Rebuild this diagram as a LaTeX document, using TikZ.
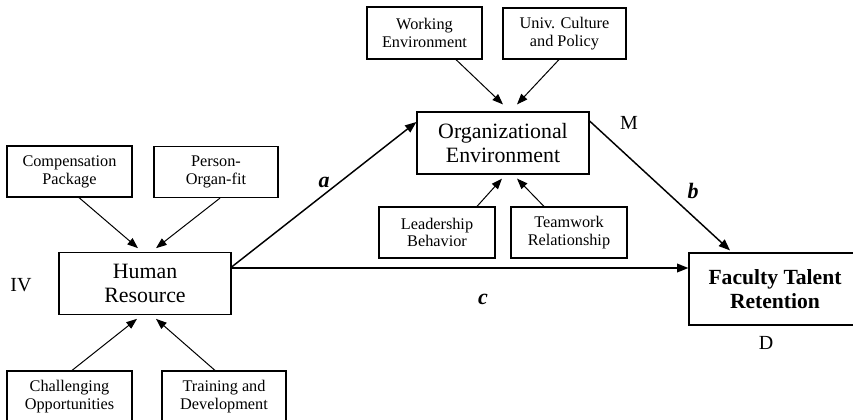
\documentclass[tikz,border=0pt]{standalone}
\usepackage{fontspec}
\setmainfont{Liberation Serif}
\usetikzlibrary{arrows.meta,calc}
\begin{document}
\begin{tikzpicture}[x=0.75pt,y=-0.75pt,
  smallbox/.style={draw,line width=0.9pt,rectangle,inner sep=0pt,align=center,
    font=\fontsize{12.2}{13.3}\selectfont,minimum height=51*0.75pt},
  bigbox/.style={draw,line width=0.9pt,rectangle,inner sep=0pt,align=center,
    font=\fontsize{16.4}{18}\selectfont,minimum width=172*0.75pt,minimum height=61.5*0.75pt},
  thinarrow/.style={line width=0.75pt,-{Triangle[length=8pt,width=6pt]}},
  mainarrow/.style={line width=1.1pt,-{Triangle[length=8.5pt,width=6.5pt]}},
  pathlabel/.style={font=\fontsize{16.5}{18}\selectfont\bfseries\itshape},
  rolelabel/.style={font=\fontsize{15}{18}\selectfont}
]
\useasboundingbox (0,0) rectangle (853,419);
\clip (0,0) rectangle (853,419);

% boxes
\node[smallbox,minimum width=125*0.75pt] (comp) at (69.5,171.5) {Compensation\\Package};
\node[smallbox,minimum width=124*0.75pt] (person) at (216,172) {Person-\\Organ-fit};
\node[smallbox,minimum width=125*0.75pt] (chall) at (69.5,396.5) {Challenging\\Opportunities};
\node[smallbox,minimum width=124*0.75pt] (train) at (224,396.5) {Training and\\Development};
\node[bigbox] (hr) at (145,283.5) {Human\\Resource};

\node[smallbox,minimum width=115*0.75pt,minimum height=52*0.75pt] (work) at (424.5,33) {Working\\Environment};
\node[smallbox,minimum width=123*0.75pt] (univ) at (564.5,33.5) {Univ. Culture\\and Policy};
\node[bigbox,minimum height=62*0.75pt] (org) at (503,143) {Organizational\\Environment};
\node[smallbox,minimum width=116*0.75pt] (lead) at (437,232.5) {Leadership\\Behavior};
\node[smallbox,minimum width=116*0.75pt] (team) at (569,232.5) {Teamwork\\Relationship};

\node[bigbox,minimum height=72*0.75pt,font=\fontsize{16.2}{18.5}\selectfont\bfseries] (fac) at (775,289) {Faculty Talent\\Retention};

% labels
\node[rolelabel] (iv) at (21,285) {IV};
\node[rolelabel] (m) at (629,123) {M};
\node[rolelabel] (d) at (766,343) {D};
\node[pathlabel] (la) at (324,182) {a};
\node[pathlabel] (lb) at (693,191) {b};
\node[pathlabel] (lc) at (483,299) {c};

% arrows into Human Resource
\draw[thinarrow] ($(comp.south)+(9.5,0)$) -- ($(hr.north)+(-7,-4)$);
\draw[thinarrow] ($(person.south)+(4,0)$) -- ($(hr.north)+(11,-4)$);
\draw[thinarrow] ($(chall.north)+(2.5,0)$) -- ($(hr.south)+(-8,4)$);
\draw[thinarrow] ($(train.north)+(-9,0)$) -- ($(hr.south)+(11,4)$);

% arrows into Organizational Environment
\draw[thinarrow] ($(work.south)+(31.5,0)$) -- ($(org.north)+(0,-7)$);
\draw[thinarrow] ($(univ.south)+(-5.5,0)$) -- ($(org.north)+(14,-7)$);
\draw[thinarrow] ($(lead.north)+(40,0)$) -- ($(org.south)+(-1,4)$);
\draw[thinarrow] ($(team.north)+(-25,0)$) -- ($(org.south)+(14,4)$);

% main paths
\draw[mainarrow] ($(hr.east)+(0,-16.5)$) -- ($(org.west)+(0,-21)$);
\draw[mainarrow] ($(org.east)+(0,-22)$) -- ($(fac.north)+(-45,-2)$);
\draw[mainarrow] ($(hr.east)+(0,-15.5)$) -- ($(fac.west)+(0,-21)$);
\end{tikzpicture}
\end{document}
